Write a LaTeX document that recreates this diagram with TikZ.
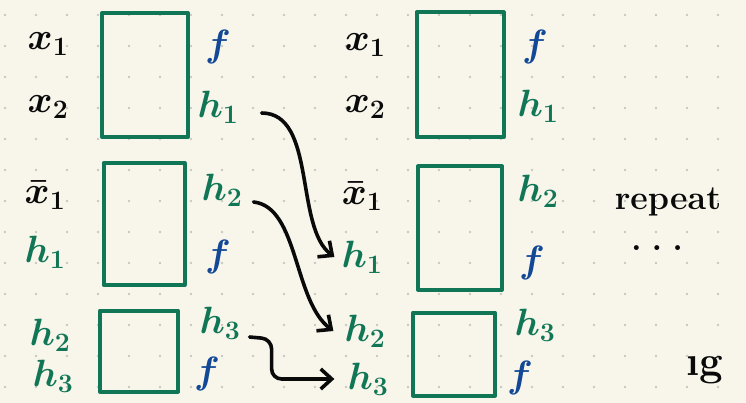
\RequirePackage{fix-cm}
\documentclass[tikz,border=0pt]{standalone}
\usepackage{amsmath,amssymb}
\usepackage{tikz}
\usetikzlibrary{arrows.meta,calc}
\usepackage{xcolor}
\definecolor{paper}{RGB}{248,246,235}
\definecolor{dotc}{RGB}{200,200,196}
\definecolor{grn}{RGB}{16,118,86}
\definecolor{blu}{RGB}{18,72,150}
\definecolor{ink}{RGB}{10,10,10}
\tikzset{
  lbl/.style={inner sep=1pt,font=\fontsize{38}{40}\selectfont\boldmath,text=ink},
  gl/.style={lbl,text=grn},
  bl/.style={lbl,text=blu},
  blk/.style={draw=grn,line width=4pt,line join=round,rectangle,inner sep=0pt},
  arr/.style={-{Straight Barb[length=11pt,width=20pt]},line width=3.6pt,ink,line cap=round},
}
\newcommand{\hw}[1]{$#1$}

\begin{document}
\begin{tikzpicture}[x=1pt,y=-1pt]
  \fill[paper] (0,0) rectangle (746,403);
  \useasboundingbox (0,0) rectangle (746,403);
  \foreach \i in {0,...,23}
    \foreach \j in {0,...,12}
      \fill[dotc] (5+31*\i,15+31*\j) circle (1.3pt);

  % left column
  \node[blk,minimum width=86pt,minimum height=124pt] (Lb1) at (145,75) {};
  \node[blk,minimum width=81pt,minimum height=122pt] (Lb2) at (144,224) {};
  \node[blk,minimum width=78pt,minimum height=81pt] (Lb3) at (139,351) {};
  \node[lbl] (Lx1) at (48,44) {\hw{x_1}};
  \node[lbl] (Lx2) at (48,107) {\hw{x_2}};
  \node[lbl] (Lxb) at (45,195) {\hw{\bar{x}_1}};
  \node[gl] (Lh1) at (45,252) {\hw{h_1}};
  \node[gl] (Lh2) at (50,335) {\hw{h_2}};
  \node[gl] (Lh3) at (53,376) {\hw{h_3}};
  \node[bl] (Lf1) at (218,47) {\hw{f}};
  \node[gl] (Lo1) at (218,107) {\hw{h_1}};
  \node[gl] (Lo2) at (222,190) {\hw{h_2}};
  \node[bl] (Lf2) at (218,257) {\hw{f}};
  \node[gl] (Lo3) at (220,323) {\hw{h_3}};
  \node[bl] (Lf3) at (207,374) {\hw{f}};

  % right column
  \node[blk,minimum width=87pt,minimum height=125pt] (Rb1) at (460,75) {};
  \node[blk,minimum width=84pt,minimum height=123pt] (Rb2) at (460,228) {};
  \node[blk,minimum width=82pt,minimum height=83pt] (Rb3) at (454,354) {};
  \node[lbl] (Rx1) at (365,45) {\hw{x_1}};
  \node[lbl] (Rx2) at (365,107) {\hw{x_2}};
  \node[lbl] (Rxb) at (362,196) {\hw{\bar{x}_1}};
  \node[gl] (Rh1) at (362,257) {\hw{h_1}};
  \node[gl] (Rh2) at (365,331) {\hw{h_2}};
  \node[gl] (Rh3) at (368,379) {\hw{h_3}};
  \node[bl] (Rf1) at (535,47) {\hw{f}};
  \node[gl] (Ro1) at (538,106) {\hw{h_1}};
  \node[gl] (Ro2) at (538,191) {\hw{h_2}};
  \node[bl] (Rf2) at (532,263) {\hw{f}};
  \node[gl] (Ro3) at (535,325) {\hw{h_3}};
  \node[bl] (Rf3) at (520,378) {\hw{f}};

  \node[lbl,font=\fontsize{34}{36}\selectfont\bfseries] (rep) at (668,202) {repeat};
  \node[lbl,font=\fontsize{34}{36}\selectfont\bfseries] (dots) at (657,248) {.\hspace{10pt}.\hspace{10pt}.};
  \node[lbl,font=\fontsize{42}{44}\selectfont\bfseries] (sig) at (705,370) {\i g};

  \draw[arr] ([shift={(22,6)}]Lo1.east) .. controls +(55,0) and +(-40,-30) .. ([xshift=-6pt]Rh1.west);
  \draw[arr] ([shift={(10,12)}]Lo2.east) .. controls +(45,5) and +(-40,-30) .. ([xshift=-10pt]Rh2.west);
  \draw[arr,rounded corners=10pt] ([shift={(8,14)}]Lo3.east) -- ++(22,2) |- ([xshift=-12pt]Rh3.west);
\end{tikzpicture}
\end{document}
